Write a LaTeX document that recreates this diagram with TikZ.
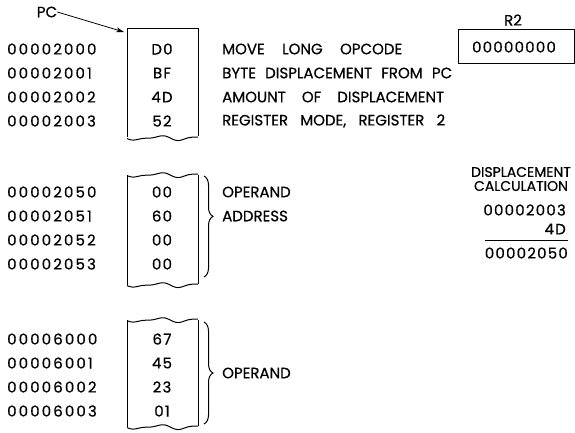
\documentclass[tikz,border=0pt]{standalone}
\usepackage{fontspec}
\setmainfont{Poppins}[FakeBold=0.6]
\usetikzlibrary{decorations.pathreplacing,arrows.meta}
\newcommand{\wavy}[1]{plot[domain=0:1,samples=40,smooth] ({127+71*\x},{#1+1.8*sin(600*\x)+0.9*sin(1100*\x+40)})}
\begin{document}
\begin{tikzpicture}[x=1pt,y=-1pt,
  addr/.style={anchor=west,inner sep=0pt,font=\fontsize{15}{15}\selectfont\addfontfeature{LetterSpace=14}},
  val/.style={inner sep=0pt,font=\fontsize{15}{15}\selectfont\addfontfeature{LetterSpace=8}},
  desc/.style={anchor=west,inner sep=0pt,font=\fontsize{15}{15}\selectfont},
  lbl/.style={inner sep=0pt,font=\fontsize{15}{15}\selectfont},
  small/.style={inner sep=0pt,font=\fontsize{14}{14}\selectfont},
  boxline/.style={line width=1pt},
  brc/.style={line width=1pt,decorate,decoration={brace,amplitude=9pt,aspect=#1}}
]
\useasboundingbox (0,0) rectangle (575,432);
% ---- group 1
\node[lbl] (pc) at (47,12) {PC};
\coordinate (b1tl) at (124,32);
\draw[boxline] (127,28) -- (198,28) -- (198,136);
\draw[boxline] (127,28) -- (127,137);
\draw[boxline] \wavy{138};
\draw[-{Stealth[length=8pt,width=5pt]},line width=0.8pt] (pc.east) -- (b1tl);
\foreach \i/\a/\v in {0/00002000/D0,1/00002001/BF,2/00002002/4D,3/00002003/52}{
  \node[addr] (a1\i) at (7,49+24*\i) {\a};
  \node[val] (v1\i) at (162,49+24*\i) {\v};
}
\node[desc] (d10) at (222,49) {\makebox[180pt][s]{MOVE LONG OPCODE}};
\node[desc] (d11) at (222,73) {\makebox[230pt][s]{BYTE DISPLACEMENT FROM PC}};
\node[desc] (d12) at (222,97) {\makebox[222pt][s]{AMOUNT OF DISPLACEMENT}};
\node[desc] (d13) at (222,121) {\makebox[223pt][s]{REGISTER MODE, REGISTER 2}};
% ---- R2
\node[lbl] (r2l) at (513,20) {R2};
\draw[boxline] (574,29) -- (458,29) -- (458,63) -- (574,63) -- cycle;
\node[val] (r2) at (514,47) {00000000};
% ---- displacement calculation
\node[small] (dc1) at (521,172) {DISPLACEMENT};
\node[small] (dc2) at (521,186) {CALCULATION};
\node[val,anchor=east] (c1) at (566,210) {00002003};
\node[val,anchor=east] (c2) at (566,229) {4D};
\node[val,anchor=east] (c3) at (568,253) {00002050};
\draw[line width=1pt] (c3.west |- 0,240) -- (568,240);
% ---- group 2
\draw[boxline] \wavy{175};
\draw[boxline] (127,175) -- (127,285);
\draw[boxline] (198,175) -- (198,284);
\draw[boxline] \wavy{285};
\foreach \i/\a/\v in {0/00002050/00,1/00002051/60,2/00002052/00,3/00002053/00}{
  \node[addr] (a2\i) at (7,192+24*\i) {\a};
  \node[val] (v2\i) at (162,192+24*\i) {\v};
}
\draw[brc=0.4] (204,176) -- (204,277);
\node[desc] (op1) at (222,192) {OPERAND};
\node[desc] (ad1) at (222,216) {ADDRESS};
% ---- group 3
\draw[boxline] \wavy{320};
\draw[boxline] (127,320) -- (127,427);
\draw[boxline] (198,320) -- (198,426);
\draw[boxline] \wavy{427};
\foreach \i/\a/\v in {0/00006000/67,1/00006001/45,2/00006002/23,3/00006003/01}{
  \node[addr] (a3\i) at (7,339+24*\i) {\a};
  \node[val] (v3\i) at (162,339+24*\i) {\v};
}
\draw[brc=0.5] (204,322) -- (204,424);
\node[desc] (op2) at (222,373) {OPERAND};
\end{tikzpicture}
\end{document}
